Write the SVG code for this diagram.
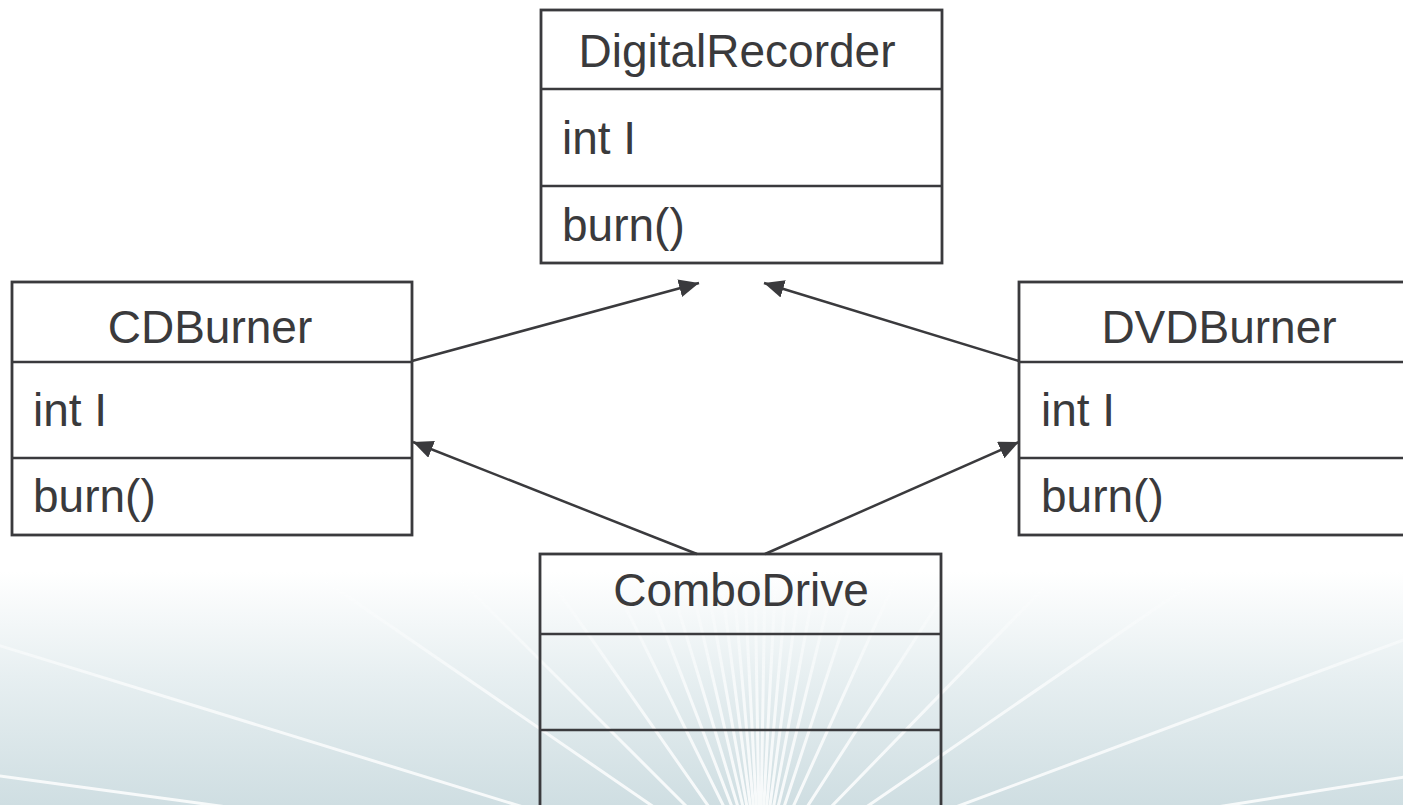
<svg xmlns="http://www.w3.org/2000/svg" width="1403" height="805" viewBox="0 0 1403 805">
  <style>
    .box { fill: none; stroke: #3a3a3d; stroke-width: 2.8; }
    .div { stroke: #3a3a3d; stroke-width: 2.6; }
    .name { font-family: "Liberation Sans", Arial, sans-serif; font-size: 46px; fill: #3a3a3c; text-anchor: middle; }
    .item { font-family: "Liberation Sans", Arial, sans-serif; font-size: 46px; fill: #3a3a3c; }
    .conn { stroke: #3a3a3d; stroke-width: 2.5; fill: none; marker-end: url(#tri); }
    .ray { stroke: #ffffff; stroke-width: 3; stroke-linecap: round; }
  </style>
  <defs>
    <linearGradient id="bg" x1="0" y1="0" x2="0" y2="1">
      <stop offset="0" stop-color="#ffffff"/>
      <stop offset="0.71" stop-color="#ffffff"/>
      <stop offset="0.84" stop-color="#e7eff1"/>
      <stop offset="1" stop-color="#cfdee2"/>
    </linearGradient>
    <linearGradient id="fade" x1="0" y1="0" x2="0" y2="1">
      <stop offset="0" stop-color="#000"/>
      <stop offset="0.72" stop-color="#000"/>
      <stop offset="0.86" stop-color="#fff" stop-opacity="0.8"/>
      <stop offset="1" stop-color="#fff"/>
    </linearGradient>
    <mask id="rayMask" maskUnits="userSpaceOnUse" x="0" y="0" width="1403" height="805">
      <rect x="0" y="0" width="1403" height="805" fill="url(#fade)"/>
    </mask>
    <marker id="tri" viewBox="0 0 20 18" refX="20" refY="9" markerWidth="20" markerHeight="18" markerUnits="userSpaceOnUse" orient="auto">
      <path d="M0,0 L20,9 L0,18 z" fill="#3a3a3d"/>
    </marker>
  </defs>

  <!-- background with sunburst rays -->
  <rect x="0" y="0" width="1403" height="805" fill="url(#bg)"/>
  <g id="rays" mask="url(#rayMask)" opacity="0.85">
    <line class="ray" x1="760" y1="880" x2="-700" y2="430"/>
    <line class="ray" x1="760" y1="880" x2="-700" y2="680"/>
    <line class="ray" x1="760" y1="880" x2="-200" y2="220"/>
    <line class="ray" x1="760" y1="880" x2="60" y2="180"/>
    <line class="ray" x1="760" y1="880" x2="250" y2="150"/>
    <line class="ray" x1="760" y1="880" x2="400" y2="150"/>
    <line class="ray" x1="760" y1="880" x2="480" y2="150"/>
    <line class="ray" x1="760" y1="880" x2="540" y2="150"/>
    <line class="ray" x1="760" y1="880" x2="590" y2="150"/>
    <line class="ray" x1="760" y1="880" x2="630" y2="150"/>
    <line class="ray" x1="760" y1="880" x2="665" y2="150"/>
    <line class="ray" x1="760" y1="880" x2="695" y2="150"/>
    <line class="ray" x1="760" y1="880" x2="722" y2="150"/>
    <line class="ray" x1="760" y1="880" x2="748" y2="150"/>
    <line class="ray" x1="760" y1="880" x2="772" y2="150"/>
    <line class="ray" x1="760" y1="880" x2="798" y2="150"/>
    <line class="ray" x1="760" y1="880" x2="826" y2="150"/>
    <line class="ray" x1="760" y1="880" x2="858" y2="150"/>
    <line class="ray" x1="760" y1="880" x2="895" y2="150"/>
    <line class="ray" x1="760" y1="880" x2="940" y2="150"/>
    <line class="ray" x1="760" y1="880" x2="1000" y2="150"/>
    <line class="ray" x1="760" y1="880" x2="1090" y2="150"/>
    <line class="ray" x1="760" y1="880" x2="1230" y2="150"/>
    <line class="ray" x1="760" y1="880" x2="1450" y2="170"/>
    <line class="ray" x1="760" y1="880" x2="1750" y2="200"/>
    <line class="ray" x1="760" y1="880" x2="2100" y2="380"/>
    <line class="ray" x1="760" y1="880" x2="2200" y2="650"/>
  </g>

  <!-- generalization connectors -->
  <g id="connectors">
    <line class="conn" x1="412" y1="361" x2="699" y2="283"/>
    <line class="conn" x1="1019" y1="361" x2="764" y2="283"/>
    <line class="conn" x1="697" y1="554" x2="413" y2="442"/>
    <line class="conn" x1="765" y1="554" x2="1019" y2="442"/>
  </g>

  <g id="DigitalRecorder">
    <rect class="box" x="541" y="10" width="401" height="253"/>
    <line class="div" x1="541" y1="89" x2="942" y2="89"/>
    <line class="div" x1="541" y1="186" x2="942" y2="186"/>
    <text class="name" x="737" y="67">DigitalRecorder</text>
    <text class="item" x="562" y="154">int I</text>
    <text class="item" x="562" y="241">burn()</text>
  </g>

  <g id="CDBurner">
    <rect class="box" x="12" y="282" width="400" height="253"/>
    <line class="div" x1="12" y1="362" x2="412" y2="362"/>
    <line class="div" x1="12" y1="458" x2="412" y2="458"/>
    <text class="name" x="210" y="343">CDBurner</text>
    <text class="item" x="33" y="426">int I</text>
    <text class="item" x="33" y="512">burn()</text>
  </g>

  <g id="DVDBurner">
    <rect class="box" x="1019" y="282" width="401" height="253"/>
    <line class="div" x1="1019" y1="362" x2="1420" y2="362"/>
    <line class="div" x1="1019" y1="458" x2="1420" y2="458"/>
    <text class="name" x="1219" y="343">DVDBurner</text>
    <text class="item" x="1041" y="426">int I</text>
    <text class="item" x="1041" y="512">burn()</text>
  </g>

  <g id="ComboDrive">
    <rect class="box" x="540" y="554" width="401" height="280"/>
    <line class="div" x1="540" y1="634" x2="941" y2="634"/>
    <line class="div" x1="540" y1="730" x2="941" y2="730"/>
    <text class="name" x="741" y="606">ComboDrive</text>
  </g>
</svg>
